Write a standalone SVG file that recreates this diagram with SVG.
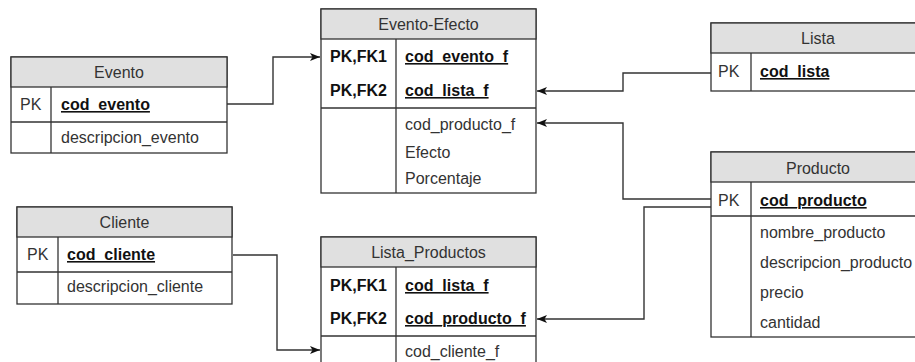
<svg xmlns="http://www.w3.org/2000/svg" width="915" height="362" viewBox="0 0 915 362">
<defs>
<style>
.box{fill:#ffffff;stroke:#333333;stroke-width:1.3}
.hdr{fill:#e0e0e0;stroke:#333333;stroke-width:1.3}
.ln{stroke:#333333;stroke-width:1.3;fill:none}
.t{font-family:"Liberation Sans",Arial,sans-serif;font-size:16px;fill:#333333}
.h{text-anchor:middle}
.b{font-weight:bold;fill:#111111}
.u{text-decoration:underline}
.con{fill:none;stroke:#333333;stroke-width:1.4}
</style>
<marker id="arr" markerUnits="userSpaceOnUse" markerWidth="12" markerHeight="10" refX="10" refY="4" orient="auto" viewBox="0 0 12 10">
<path d="M0,0 L10,4 L0,8 L2.5,4 z" fill="#111111"/>
</marker>
</defs>

<g id="connectors">
<path class="con" d="M227,104 H273 V57 H320" marker-end="url(#arr)"/>
<path class="con" d="M711,73 H623 V91 H537" marker-end="url(#arr)"/>
<path class="con" d="M711,199 H623 V123 H537" marker-end="url(#arr)"/>
<path class="con" d="M711,207 H644 V319 H537" marker-end="url(#arr)"/>
<path class="con" d="M233,255 H277 V350 H320" marker-end="url(#arr)"/>
</g>

<g id="evento">
<rect class="box" x="11" y="57" width="216" height="96"/>
<rect class="hdr" x="11" y="57" width="216" height="30"/>
<line class="ln" x1="11" y1="122" x2="227" y2="122"/>
<line class="ln" x1="51" y1="87" x2="51" y2="153"/>
<text class="t h" x="119" y="78">Evento</text>
<text class="t" x="20" y="110">PK</text>
<text class="t b u" x="61" y="110">cod_evento</text>
<text class="t" x="61" y="143">descripcion_evento</text>
</g>

<g id="evento-efecto">
<rect class="box" x="321" y="9" width="215" height="184"/>
<rect class="hdr" x="321" y="9" width="215" height="30"/>
<line class="ln" x1="321" y1="108" x2="536" y2="108"/>
<line class="ln" x1="396" y1="39" x2="396" y2="193"/>
<text class="t h" x="428.5" y="30">Evento-Efecto</text>
<text class="t b" x="330" y="62">PK,FK1</text>
<text class="t b u" x="405" y="62">cod_evento_f</text>
<text class="t b" x="330" y="96">PK,FK2</text>
<text class="t b u" x="405" y="96">cod_lista_f</text>
<text class="t" x="405" y="130">cod_producto_f</text>
<text class="t" x="405" y="158">Efecto</text>
<text class="t" x="405" y="184">Porcentaje</text>
</g>

<g id="lista">
<rect class="box" x="711" y="23" width="214" height="68"/>
<rect class="hdr" x="711" y="23" width="214" height="30"/>
<line class="ln" x1="751" y1="53" x2="751" y2="91"/>
<text class="t h" x="818" y="44">Lista</text>
<text class="t" x="718" y="77">PK</text>
<text class="t b u" x="760" y="77">cod_lista</text>
</g>

<g id="producto">
<rect class="box" x="711" y="152" width="214" height="185"/>
<rect class="hdr" x="711" y="152" width="214" height="30"/>
<line class="ln" x1="711" y1="216" x2="925" y2="216"/>
<line class="ln" x1="751" y1="182" x2="751" y2="337"/>
<text class="t h" x="818" y="174">Producto</text>
<text class="t" x="718" y="206">PK</text>
<text class="t b u" x="760" y="206">cod_producto</text>
<text class="t" x="760" y="238">nombre_producto</text>
<text class="t" x="760" y="268">descripcion_producto</text>
<text class="t" x="760" y="298">precio</text>
<text class="t" x="760" y="328">cantidad</text>
</g>

<g id="cliente">
<rect class="box" x="17" y="207" width="215" height="97"/>
<rect class="hdr" x="17" y="207" width="215" height="30"/>
<line class="ln" x1="17" y1="272" x2="232" y2="272"/>
<line class="ln" x1="58" y1="237" x2="58" y2="304"/>
<text class="t h" x="124.5" y="228">Cliente</text>
<text class="t" x="27" y="260">PK</text>
<text class="t b u" x="67" y="260">cod_cliente</text>
<text class="t" x="67" y="292">descripcion_cliente</text>
</g>

<g id="lista-productos">
<rect class="box" x="321" y="237" width="215" height="140"/>
<rect class="hdr" x="321" y="237" width="215" height="30"/>
<line class="ln" x1="321" y1="336" x2="536" y2="336"/>
<line class="ln" x1="396" y1="267" x2="396" y2="377"/>
<text class="t h" x="428.5" y="258">Lista_Productos</text>
<text class="t b" x="330" y="291">PK,FK1</text>
<text class="t b u" x="405" y="291">cod_lista_f</text>
<text class="t b" x="330" y="324">PK,FK2</text>
<text class="t b u" x="405" y="324">cod_producto_f</text>
<text class="t" x="405" y="357">cod_cliente_f</text>
</g>
</svg>
